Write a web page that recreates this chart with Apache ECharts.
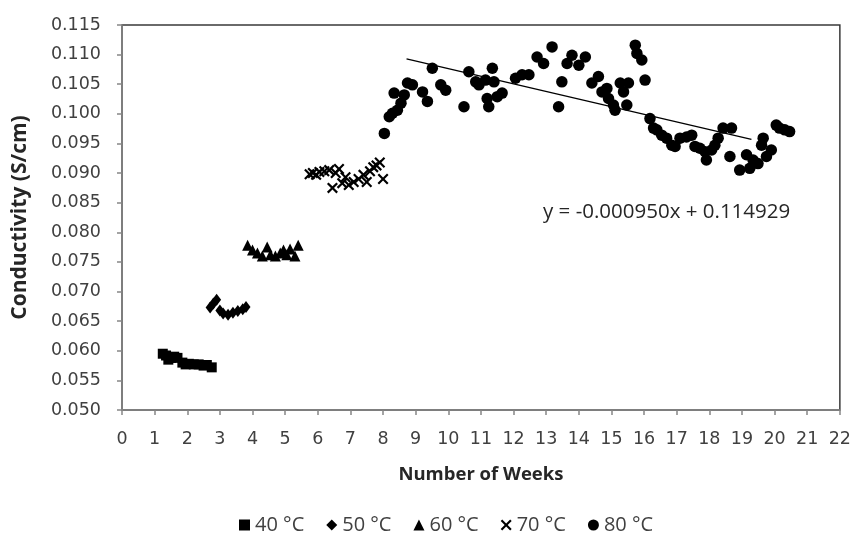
<!DOCTYPE html>
<html>
<head>
<meta charset="utf-8">
<script src="https://cdn.jsdelivr.net/npm/echarts@6/dist/echarts.min.js"></script>
<style>html,body{margin:0;padding:0;background:#fff}#c{width:854px;height:537px}</style>
</head>
<body>
<div id="c"></div>
<script>
const seriesNames = ['40 °C', '50 °C', '60 °C', '70 °C', '80 °C'];
const xTicks = { min: 0, max: 22, step: 1 };
const yTicks = { min: 0.05, max: 0.115, step: 0.005 };

const data40 = [[1.25,0.0595],[1.35,0.0592],[1.42,0.0585],[1.5,0.0588],[1.6,0.0590],[1.7,0.0588],[1.85,0.0580],[1.95,0.0577],[2.05,0.0578],[2.2,0.0577],[2.35,0.0577],[2.5,0.0575],[2.6,0.0576],[2.75,0.0572]];
const data50 = [[2.7,0.0673],[2.8,0.0680],[2.9,0.0686],[3.0,0.0668],[3.1,0.0663],[3.25,0.0661],[3.4,0.0664],[3.55,0.0667],[3.7,0.0670],[3.8,0.0674]];
const data60 = [[3.85,0.0778],[4.0,0.0770],[4.15,0.0765],[4.3,0.0760],[4.45,0.0775],[4.55,0.0762],[4.7,0.0760],[4.85,0.0765],[4.95,0.0770],[5.05,0.0762],[5.15,0.0772],[5.3,0.0760],[5.4,0.0778]];
const data70 = [[5.75,0.0898],[5.85,0.0900],[5.95,0.0897],[6.05,0.0902],[6.2,0.0903],[6.35,0.0905],[6.45,0.0875],[6.55,0.0900],[6.65,0.0907],[6.75,0.0883],[6.85,0.0893],[6.95,0.0880],[7.1,0.0885],[7.25,0.0890],[7.4,0.0897],[7.5,0.0885],[7.6,0.0903],[7.7,0.0910],[7.8,0.0913],[7.9,0.0918],[8.0,0.0890]];
const data80 = [[8.04,0.0967],[8.19,0.0995],[8.29,0.1001],[8.34,0.1035],[8.44,0.1006],[8.55,0.1018],[8.65,0.1032],[8.75,0.1052],[8.9,0.1049],[9.21,0.1037],[9.36,0.1021],[9.51,0.1077],[9.77,0.1049],[9.92,0.1040],[10.48,0.1012],[10.63,0.1071],[10.84,0.1054],[10.94,0.1049],[11.14,0.1057],[11.19,0.1026],[11.24,0.1012],[11.35,0.1077],[11.4,0.1054],[11.5,0.1029],[11.65,0.1035],[12.06,0.1060],[12.26,0.1066],[12.47,0.1066],[12.72,0.1096],[12.92,0.1085],[13.18,0.1113],[13.38,0.1012],[13.48,0.1054],[13.64,0.1085],[13.79,0.1099],[14.0,0.1082],[14.2,0.1096],[14.4,0.1052],[14.6,0.1063],[14.71,0.1037],[14.86,0.1043],[14.91,0.1026],[15.06,0.1015],[15.11,0.1006],[15.27,0.1052],[15.37,0.1037],[15.47,0.1015],[15.52,0.1052],[15.73,0.1116],[15.78,0.1102],[15.93,0.1091],[16.03,0.1057],[16.18,0.0992],[16.29,0.0976],[16.39,0.0973],[16.54,0.0964],[16.69,0.0959],[16.85,0.0947],[16.95,0.0945],[17.1,0.0959],[17.3,0.0961],[17.46,0.0964],[17.56,0.0945],[17.71,0.0942],[17.87,0.0936],[17.91,0.0922],[18.07,0.0939],[18.17,0.0947],[18.27,0.0959],[18.42,0.0976],[18.68,0.0976],[18.63,0.0928],[18.93,0.0905],[19.14,0.0931],[19.24,0.0908],[19.34,0.0922],[19.49,0.0916],[19.6,0.0947],[19.65,0.0959],[19.75,0.0928],[19.9,0.0939],[20.05,0.0981],[20.15,0.0976],[20.31,0.0973],[20.46,0.0970]];
const trendLine = [[8.72,0.1093],[19.29,0.0957]];
const equationText = 'y = -0.000950x + 0.114929';

const FONT = 'Open Sans';
const TICKFONT = 'DejaVu Sans';
const crossPath = 'path://M0,1.4L1.4,0L5,3.6L8.6,0L10,1.4L6.4,5L10,8.6L8.6,10L5,6.4L1.4,10L0,8.6L3.6,5Z';
const symbols = ['rect', 'diamond', 'triangle', crossPath, 'circle'];
const sizes = [10, [9, 12], 11, 11, 11.5];
const datasets = [data40, data50, data60, data70, data80];

const chart = echarts.init(document.getElementById('c'), null, { renderer: 'canvas' });
const series = datasets.map((d, i) => ({
  name: seriesNames[i], type: 'scatter', data: d,
  symbol: symbols[i], symbolSize: sizes[i],
  itemStyle: { color: '#000', opacity: 1 },
  emphasis: { disabled: true }, z: 3
}));
series.push({
  name: 'trend', type: 'line', data: trendLine, symbol: 'none',
  lineStyle: { color: '#000', width: 1.3 }, z: 4, silent: true
});

chart.setOption({
  animation: false,
  grid: { left: 122, right: 12, top: 25, bottom: 127, show: true, borderColor: '#3a3a3a', borderWidth: 1.5, backgroundColor: '#fff' },
  xAxis: {
    type: 'value', min: xTicks.min, max: xTicks.max, interval: xTicks.step,
    name: 'Number of Weeks', nameLocation: 'middle', nameGap: 55,
    nameTextStyle: { fontFamily: FONT, fontSize: 18.5, fontWeight: 'bold', color: '#262626' },
    axisLine: { show: true, onZero: false, lineStyle: { color: '#868686', width: 1.5 } },
    axisTick: { show: true, inside: false, length: 5, lineStyle: { color: '#868686', width: 1.5 } },
    axisLabel: { fontFamily: TICKFONT, fontSize: 17.5, color: '#404040', margin: 20 },
    splitLine: { show: false }
  },
  yAxis: {
    type: 'value', min: yTicks.min, max: yTicks.max, interval: yTicks.step,
    name: 'Conductivity (S/cm)', nameLocation: 'middle', nameGap: 91,
    nameTextStyle: { fontFamily: FONT, fontSize: 21, fontWeight: 'bold', color: '#262626' },
    axisLine: { show: true, onZero: false, lineStyle: { color: '#868686', width: 1.5 } },
    axisTick: { show: true, inside: false, length: 5, lineStyle: { color: '#868686', width: 1.5 } },
    axisLabel: { fontFamily: TICKFONT, fontSize: 17.5, color: '#404040', margin: 21, formatter: v => v.toFixed(3) },
    splitLine: { show: false }
  },
  legend: {
    data: seriesNames, left: 234, top: 510, itemWidth: 11, itemHeight: 11, itemGap: 22,
    textStyle: { fontFamily: FONT, fontSize: 20, color: '#404040' },
    itemStyle: { color: '#000' }
  },
  graphic: [{
    type: 'text', left: 543, top: 202,
    style: { text: equationText, font: '20.5px "Open Sans"', fill: '#262626' }
  }],
  series: series
});
</script>
</body>
</html>
